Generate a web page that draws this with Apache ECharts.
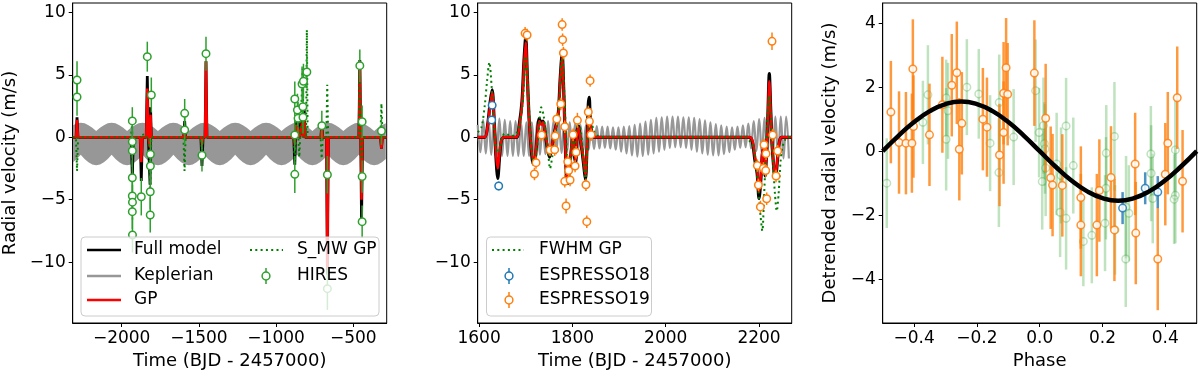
<!DOCTYPE html>
<html><head><meta charset="utf-8">
<script src="https://cdn.jsdelivr.net/npm/echarts@6/dist/echarts.min.js"></script>
<style>html,body{margin:0;padding:0;background:#fff}#c{width:1200px;height:377px}</style>
</head><body><div id="c"></div><script>
// ---------------- DATA ----------------
// Panel 1: HIRES [time, rv, err]
const hires = [[-2289,4.59,1.5],[-2289,3.23,1.5],[-1931,1.31,1.1],[-1931,-0.35,1.3],[-1931,-1.07,1.3],[-1931,-3.24,1.4],[-1931,-4.7,1.4],[-1930,-5.2,1.4],[-1931,-5.96,1.4],[-1930,-7.83,1.4],[-1873,-4.76,1.5],[-1834,6.46,1.2],[-1808,3.39,1.4],[-1814,-1.36,1.3],[-1814,-2.3,1.3],[-1815,-4.36,1.4],[-1815,-6.23,1.4],[-1592,1.92,1.15],[-1592,0.58,1.2],[-1480,-1.44,1.3],[-1454,6.7,1.36],[-879,3.07,1.4],[-879,0.18,1.3],[-879,-2.97,1.5],[-862,2.19,1.3],[-858,1.52,1.3],[-832,4.27,1.4],[-823,4.49,1.4],[-827,2.45,1.3],[-826,1.6,1.3],[-801,5.23,1.3],[-704,0.93,1.2],[-668,-3.0,1.5],[-668,-12.13,1.7],[-458,5.74,1.3],[-443,1.25,1.3],[-443,-3.15,1.3],[-443,-6.76,1.3],[-318,0.5,1.1]];
// Panel 1 Keplerian band envelope (sampled grid)
const kep1T0 = -2315, kep1Step = 25;
const kep1Up = [0.97,1.12,1.17,1.12,0.97,0.76,0.5,0.76, 0.97,1.12,1.17,1.12,0.97,0.76,0.5,0.76, 0.97,1.12,1.17,1.12,0.97,0.76,0.5,0.76, 0.97,1.12,1.17,1.12,0.97,0.76,0.5,0.76, 0.97,1.12,1.17,1.12,0.97,0.76,0.5,0.76, 0.97,1.12,1.17,1.12,0.97,0.76,0.5,0.76, 0.97,1.12,1.17,1.12,0.97,0.76,0.5,0.76, 0.97,1.12,1.17,1.12,0.97,0.76,0.5,0.76, 0.97,1.12,1.17,1.12,0.97,0.76,0.5,0.76, 0.97,1.12,1.17,1.12,0.97,0.76,0.5,0.76, 0.97,1.12];
const kep1Lo = [-2.0,-1.73,-1.4,-1.73,-2.0,-2.19,-2.25,-2.19, -2.0,-1.73,-1.4,-1.73,-2.0,-2.19,-2.25,-2.19, -2.0,-1.73,-1.4,-1.73,-2.0,-2.19,-2.25,-2.19, -2.0,-1.73,-1.4,-1.73,-2.0,-2.19,-2.25,-2.19, -2.0,-1.73,-1.4,-1.73,-2.0,-2.19,-2.25,-2.19, -2.0,-1.73,-1.4,-1.73,-2.0,-2.19,-2.25,-2.19, -2.0,-1.73,-1.4,-1.73,-2.0,-2.19,-2.25,-2.19, -2.0,-1.73,-1.4,-1.73,-2.0,-2.19,-2.25,-2.19, -2.0,-1.73,-1.4,-1.73,-2.0,-2.19,-2.25,-2.19, -2.0,-1.73,-1.4,-1.73,-2.0,-2.19,-2.25,-2.19, -2.0,-1.73];
// Panel 1 model curves [time, rv]
const full1 = [[-2317,0],[-2295,0],[-2289,1.6],[-2283,0],[-1938,0],[-1931,-3.2],[-1924,0],[-1880,0],[-1873,-3.5],[-1866,0],[-1841,0],[-1834,4.9],[-1827,0],[-1821,0],[-1816,-3.8],[-1813,2.4],[-1808,0],[-1598,0],[-1592,1.3],[-1586,0],[-1487,0],[-1480,-2.3],[-1473,0],[-1460,0],[-1454,6.1],[-1448,0],[-886,0],[-879,-2.2],[-872,1.2],[-866,0],[-858,1.5],[-850,0],[-840,0.6],[-832,1.6],[-825,0],[-818,2.2],[-812,0],[-710,0],[-704,1.1],[-698,0],[-674,0],[-668,-11],[-662,0],[-464,0],[-458,6.2],[-452,0],[-447,-6.8],[-440,0],[-324,0],[-318,-0.9],[-312,0],[-284,0]];
const gp1 = [[-2317,0],[-2295,0],[-2289,1.4],[-2283,0],[-1880,0],[-1873,-2.0],[-1866,0],[-1841,0],[-1834,3.9],[-1827,0],[-1821,0],[-1817,-0.8],[-1813,1.8],[-1808,0],[-1598,0],[-1592,0.5],[-1586,0],[-1487,0],[-1480,-0.6],[-1473,0],[-1460,0],[-1454,6.1],[-1448,0],[-886,0],[-879,-0.6],[-872,1.0],[-866,0],[-858,0.8],[-850,0],[-840,0.5],[-832,1.2],[-825,0],[-818,1.9],[-812,0],[-710,0],[-704,1.0],[-698,0],[-674,0],[-668,-10.5],[-662,0],[-464,0],[-458,6.1],[-452,0],[-447,-5.0],[-440,0],[-324,0],[-318,-0.9],[-312,0],[-284,0]];
const smw1 = [[-2317,0],[-2296,0],[-2289,-2.7],[-2282,0],[-1940,0],[-1933,1.0],[-1929,-1.2],[-1922,0],[-1868,0],[-1862,0.3],[-1856,0],[-1822,0],[-1815,-4.5],[-1808,0],[-1600,0],[-1593,-2.7],[-1586,0],[-1488,0],[-1481,-1.0],[-1474,0],[-886,0],[-879,-2.1],[-872,0],[-856,0],[-850,-1.6],[-844,0],[-836,0],[-828,5.5],[-822,0],[-806,0],[-801,8.6],[-796,0],[-712,0],[-705,-1.7],[-698,0],[-675,0],[-669,4.2],[-663,0],[-465,0],[-459,5.2],[-452,0],[-446,-2.0],[-440,0],[-325,0],[-318,2.7],[-311,0],[-284,0]];

// Panel 2: ESPRESSO [time, rv, err]
const esp18 = [[1627,1.39,0.3],[1628,2.56,0.3],[1642,-3.9,0.35]];
const esp19 = [[1698.6,8.33,0.5],[1702.9,8.2,0.5],[1718.6,-2.94,0.5],[1722,-2.03,0.5],[1734,0.18,0.5],[1752,-1.02,0.5],[1762,-0.99,0.5],[1763,0.1,0.5],[1766.5,1.47,0.5],[1775,2.67,0.5],[1778,9.03,0.5],[1779,7.82,0.5],[1780.7,6.75,0.5],[1783.6,0.85,0.5],[1783.6,-3.53,0.5],[1786.4,-5.5,0.6],[1790,-1.95,0.5],[1792,-2.67,0.5],[1795,-3.42,0.5],[1801.4,0.21,0.5],[1805.7,-2.3,0.5],[1807.9,-1.2,0.5],[1810.7,1.36,0.6],[1829,-3.8,0.5],[1830.8,-6.76,0.5],[1834,2.03,0.5],[1836.4,1.28,0.5],[1837.9,4.54,0.5],[1840,0.21,0.5],[2196.4,-2.27,0.5],[2198.6,-3.82,0.5],[2202.9,-5.58,0.5],[2209.3,-2.49,0.5],[2210.7,-0.59,0.5],[2214.3,-2.67,0.5],[2215,-1.31,0.5],[2216.4,-4.92,0.5],[2227.8,7.69,0.7],[2229.3,0.18,0.5],[2236.4,-3.1,0.5],[2240,-1.1,0.5]];
// Panel 2 Keplerian (sampled extremes)
const kep2T0 = 1597, kep2Per = 11.6;
const kep2Peak = [1.0,1.4,1.5,1.5,1.5,1.4,1.3,1.3,1.2,1.2,1.2,1.25,1.3,1.3,1.3,1.3,1.25,1.2,1.1,1.0,1.0,0.95,0.9,0.85,0.85,0.8,0.8,0.85,0.9,1.0,1.1,1.25,1.4,1.55,1.6,1.65,1.65,1.65,1.6,1.6,1.55,1.45,1.35,1.2,1.05,0.95,0.85,0.8,0.85,0.95,1.1,1.3,1.45,1.55,1.6,1.65,1.65,1.65];
const kep2Trough = [-1.2,-1.3,-1.4,-1.45,-1.5,-1.5,-1.5,-1.5,-1.5,-1.5,-1.45,-1.4,-1.35,-1.3,-1.3,-1.25,-1.2,-1.2,-1.15,-1.1,-1.0,-0.95,-0.9,-0.85,-0.9,-1.0,-1.15,-1.3,-1.45,-1.55,-1.5,-1.4,-1.3,-1.15,-1.0,-0.85,-0.8,-0.8,-0.85,-1.0,-1.15,-1.3,-1.4,-1.45,-1.45,-1.35,-1.2,-1.0,-0.85,-0.8,-0.9,-1.1,-1.3,-1.5,-1.6,-1.7,-1.7,-1.7];
const gp2 = [[1597,0],[1612,0],[1618,0.8],[1624,2.6],[1628,3.6],[1632,1.5],[1636,-1.2],[1640,-2.5],[1644,-1.2],[1648,-0.2],[1654,0],[1680,0],[1686,0.8],[1692,2.6],[1696,5.5],[1700,7.6],[1703,5],[1707,1.5],[1711,-0.5],[1716,-1.8],[1720,-1.6],[1725,0.2],[1729,1.3],[1733,1.0],[1737,1.2],[1741,0.5],[1746,-0.6],[1751,-1.4],[1756,-0.7],[1761,0.3],[1766,1.0],[1770,1.8],[1774,4.5],[1778,6.4],[1781,4],[1784,0.5],[1787,-2.8],[1790,-3.3],[1794,-2.2],[1798,-0.8],[1801,0.2],[1804,-1.2],[1807,-1.8],[1810,0.4],[1813,0.8],[1817,-0.2],[1821,-1.0],[1825,-2.2],[1828,-3.0],[1831,-1.0],[1834,1.4],[1837,1.6],[1840,0.6],[1845,0],[1852,0],[2180,0],[2186,-0.3],[2191,-1.5],[2196,-2.6],[2200,-4.4],[2204,-3.0],[2207,-1.2],[2210,-0.8],[2213,-2.8],[2216,-1.2],[2219,1.5],[2222,4.5],[2225,2.0],[2228,-0.5],[2231,-2.0],[2234,-2.9],[2237,-2.6],[2240,-1.5],[2244,-0.3],[2248,0],[2270,0]];
const full2 = [[1597,0],[1612,0],[1618,0.9],[1624,2.9],[1628,3.8],[1632,1.6],[1636,-1.5],[1640,-3.3],[1644,-1.5],[1648,-0.2],[1654,0],[1680,0],[1686,1.0],[1692,2.9],[1696,6.0],[1700,8.0],[1703,5.3],[1707,1.6],[1711,-0.6],[1716,-2.1],[1720,-1.8],[1725,0.3],[1729,1.5],[1733,1.1],[1737,1.3],[1741,0.5],[1746,-0.8],[1751,-1.6],[1756,-0.8],[1761,0.3],[1766,1.1],[1770,2.0],[1774,4.8],[1778,6.7],[1781,4.2],[1784,0.5],[1787,-3.1],[1790,-3.7],[1794,-2.4],[1798,-0.9],[1801,0.2],[1804,-1.4],[1807,-2.0],[1810,0.5],[1813,0.9],[1817,-0.2],[1821,-1.2],[1825,-2.5],[1828,-3.4],[1831,-1.0],[1834,2.6],[1836,3.2],[1838,1.6],[1840,0.6],[1845,0],[1852,0],[2180,0],[2186,-0.4],[2191,-1.8],[2196,-2.9],[2200,-4.9],[2204,-3.3],[2207,-1.4],[2210,-0.9],[2213,-3.1],[2216,-1.3],[2219,1.8],[2222,5.1],[2225,2.2],[2228,-0.6],[2231,-2.2],[2234,-3.2],[2237,-2.8],[2240,-1.6],[2244,-0.3],[2248,0],[2270,0]];
const fwhm2 = [[1597,0.4],[1605,0.8],[1612,2.5],[1617,4.5],[1622,6.0],[1627,4.0],[1632,1.0],[1637,-1.0],[1642,-1.2],[1648,-0.2],[1655,0.3],[1662,0.2],[1670,0.1],[1680,0.3],[1688,1.2],[1694,3.0],[1700,6.5],[1704,4.5],[1709,1.0],[1714,-1.5],[1718,-2.4],[1723,-1.2],[1728,0.5],[1733,2.4],[1738,1.8],[1743,0.4],[1748,-1.2],[1752,-2.5],[1757,-1.5],[1762,0],[1768,1.2],[1773,3.5],[1778,7.0],[1782,4.0],[1786,0.5],[1790,-2.5],[1794,-3.0],[1798,-1.0],[1801,0.4],[1805,-1.5],[1809,0.5],[1813,1.2],[1818,0.5],[1823,-1.5],[1828,-3.3],[1832,-0.8],[1836,1.6],[1840,1.4],[1846,0.5],[1855,0.1],[1870,0],[2170,0],[2180,-0.3],[2188,-0.8],[2194,-2.2],[2198,-4],[2203,-6.2],[2207,-7.5],[2211,-4.5],[2215,-1.0],[2219,2.0],[2222,3.3],[2226,1.0],[2230,-2.0],[2234,-4.5],[2238,-5.9],[2242,-4.5],[2246,-2.0],[2250,-0.8],[2256,-0.2],[2262,0],[2270,0]];

// Panel 3: phase-folded [phase, rv, err]
const phHires = [[-0.487,-1.0,1.4],[-0.372,0.9,1.3],[-0.356,1.76,1.55],[-0.298,1.66,1.2],[-0.292,1.26,1.5],[-0.298,0.37,1.6],[-0.232,2.0,1.5],[-0.194,1.79,1.4],[-0.158,0.25,1.5],[-0.13,-0.67,1.7],[-0.129,1.52,1.5],[-0.083,0.44,1.5],[-0.013,1.89,1.6],[-0.002,0.58,1.4],[0.008,-0.95,1.5],[0.012,0.8,1.5],[0.015,0.23,1.3],[0.017,0.07,1.4],[0.019,-0.53,1.5],[0.054,-0.4,1.6],[0.068,-0.76,1.5],[0.065,-1.91,1.4],[0.084,-2.1,1.6],[0.084,0.79,1.5],[0.107,-0.45,1.5],[0.139,-2.82,1.4],[0.166,-2.63,1.5],[0.208,-2.25,1.5],[0.211,-1.16,1.6],[0.212,-0.06,1.5],[0.238,0.46,1.7],[0.24,-2.46,1.4],[0.274,-3.37,1.5],[0.275,-1.75,1.6],[0.284,-1.94,1.5],[0.354,-0.09,1.5],[0.355,-0.69,1.5],[0.36,-1.48,1.4],[0.432,0.04,1.6],[0.432,-1.38,1.5],[0.428,-1.5,1.4]];
const phEsp19 = [[-0.474,1.22,1.6],[-0.448,0.27,1.6],[-0.426,0.25,1.6],[-0.407,0.25,1.55],[-0.404,2.57,1.55],[-0.402,0.77,1.6],[-0.351,0.51,1.6],[-0.31,1.45,1.5],[-0.28,2.06,1.6],[-0.264,2.45,1.6],[-0.256,0.06,1.6],[-0.248,0.87,1.6],[-0.181,1.0,1.6],[-0.168,0.75,1.55],[-0.128,-0.12,1.6],[-0.115,0.58,1.6],[-0.115,1.81,1.6],[-0.107,2.61,1.55],[-0.102,1.78,1.6],[-0.017,2.44,1.65],[0.019,1.03,1.7],[0.035,-0.83,1.6],[0.041,-1.06,1.6],[0.072,-1.07,1.6],[0.131,-1.45,1.6],[0.131,-2.31,1.6],[0.182,-2.31,1.6],[0.19,-1.23,1.6],[0.227,-0.82,1.6],[0.238,-2.46,1.6],[0.304,-0.4,1.6],[0.306,-2.56,1.6],[0.376,-3.37,1.6],[0.4,-0.72,1.6],[0.408,0.25,1.6],[0.438,1.67,1.6],[0.455,-0.94,1.6]];
const phEsp18 = [[0.264,-1.78,0.5],[0.336,-1.16,0.5],[0.376,-1.28,0.5]];
// Keplerian phase curve
const curvePhase = [-0.5,-0.45,-0.4,-0.35,-0.3,-0.25,-0.2,-0.15,-0.1,-0.05,0,0.05,0.1,0.15,0.2,0.25,0.3,0.35,0.4,0.45,0.5];
const curveRV = [0,0.48,0.91,1.25,1.47,1.55,1.47,1.25,0.91,0.48,0,-0.48,-0.91,-1.25,-1.47,-1.55,-1.47,-1.25,-0.91,-0.48,0];

// Axis ticks
const x1Ticks = [-2000,-1500,-1000,-500];
const x2Ticks = [1600,1800,2000,2200];
const x3Ticks = [-0.4,-0.2,0,0.2,0.4];
const yRVTicks = [-10,-5,0,5,10];
const y3Ticks = [-4,-2,0,2,4];

// ---------------- CHART ----------------
const FONT = 'DejaVu Sans';
const C_GREEN = '#2ca02c', C_ORANGE = '#ff7f0e', C_BLUE = '#1f77b4', C_GREY = '#979797';
const minus = s => s.replace('-', '\u2212');
const fmtInt = v => minus(String(Math.round(v)));
const fmt1 = v => minus(Number(v).toFixed(1));

function xAx(gi, min, max, ticks, fmt, name) {
  return {type:'value', gridIndex:gi, min, max, name, nameLocation:'middle', nameGap:29,
    nameTextStyle:{fontSize:18, color:'#000', fontFamily:FONT},
    axisLine:{show:true, onZero:false, lineStyle:{color:'#000', width:1}},
    axisTick:{show:true, length:4, lineStyle:{color:'#000', width:1}, customValues:ticks},
    axisLabel:{fontSize:17, color:'#000', fontFamily:FONT, margin:7, customValues:ticks, formatter:fmt},
    splitLine:{show:false}};
}
function yAx(gi, min, max, ticks, fmt, name, gap) {
  return {type:'value', gridIndex:gi, min, max, name, nameLocation:'middle', nameGap:gap,
    nameTextStyle:{fontSize:18, color:'#000', fontFamily:FONT},
    axisLine:{show:true, onZero:false, lineStyle:{color:'#000', width:1}},
    axisTick:{show:true, length:4, lineStyle:{color:'#000', width:1}, customValues:ticks},
    axisLabel:{fontSize:17, color:'#000', fontFamily:FONT, margin:7, customValues:ticks, formatter:fmt},
    splitLine:{show:false}};
}
function errSeries(ax, data, color, width, opacity, z) {
  return {type:'custom', xAxisIndex:ax, yAxisIndex:ax, clip:true, silent:true, z,
    encode:{x:0, y:1}, data,
    renderItem:(p, api) => {
      const x = api.value(0), y = api.value(1), e = api.value(2);
      const a = api.coord([x, y - e]), b = api.coord([x, y + e]);
      return {type:'line', shape:{x1:a[0], y1:a[1], x2:b[0], y2:b[1]},
        style:{stroke:color, lineWidth:width, opacity}};
    }};
}
function ptSeries(ax, data, color, opacity, z) {
  return {type:'scatter', xAxisIndex:ax, yAxisIndex:ax, silent:true, z,
    data:data.map(d => [d[0], d[1]]), symbol:'circle', symbolSize:7.5,
    itemStyle:{color:'#fff', borderColor:color, borderWidth:1.5, opacity}};
}
function lineSeries(ax, data, color, width, type, z, smooth) {
  return {type:'line', xAxisIndex:ax, yAxisIndex:ax, data, showSymbol:false, silent:true, z,
    smooth: smooth || false, lineStyle:{color, width, type: type || 'solid', cap:'butt'}};
}

const kep2Data = [];
for (let i = 0; i < kep2Peak.length; i++) {
  kep2Data.push([kep2T0 + i * kep2Per, kep2Peak[i]]);
  kep2Data.push([kep2T0 + i * kep2Per + kep2Per / 2, kep2Trough[i]]);
}
const curveData = curvePhase.map((p, i) => [p, curveRV[i]]);

const bandSeries = {type:'custom', xAxisIndex:0, yAxisIndex:0, clip:true, silent:true, z:1,
  data:[[kep1T0, 0]],
  renderItem:(p, api) => {
    const pts = [];
    for (let i = 0; i < kep1Up.length; i++) pts.push(api.coord([kep1T0 + i * kep1Step, kep1Up[i]]));
    for (let i = kep1Lo.length - 1; i >= 0; i--) pts.push(api.coord([kep1T0 + i * kep1Step, kep1Lo[i]]));
    return {type:'polygon', shape:{points:pts}, style:{fill:C_GREY}};
  }};

// legend graphics
const TXT = (text, x, y) => ({type:'text', z:101, style:{text, x, y, fill:'#000', fontSize:17, fontFamily:FONT, verticalAlign:'middle', align:'left'}});
const LN = (x1, y, x2, color, w, dash) => ({type:'line', z:101, shape:{x1, y1:y, x2, y2:y}, style:{stroke:color, lineWidth:w, lineDash:dash || null}});
const MK = (x, y, color) => ([
  {type:'line', z:101, shape:{x1:x, y1:y - 8, x2:x, y2:y + 8}, style:{stroke:color, lineWidth:1.5}},
  {type:'circle', z:102, shape:{cx:x, cy:y, r:3.9}, style:{fill:'#fff', stroke:color, lineWidth:1.5}}
]);
const graphics = [
  {type:'rect', z:100, shape:{x:81, y:237, width:298, height:79, r:4}, style:{fill:'rgba(255,255,255,0.8)', stroke:'#cccccc', lineWidth:1}},
  LN(87, 250, 121, '#000', 2.5), TXT('Full model', 134, 250),
  LN(87, 276, 121, C_GREY, 2.5), TXT('Keplerian', 134, 276),
  LN(87, 300, 121, '#ff0000', 2.5), TXT('GP', 134, 300),
  LN(250, 250, 283, '#008000', 2, [2, 3.3]), TXT('S_MW GP', 297, 250),
  ...MK(266, 276, C_GREEN), TXT('HIRES', 297, 276),
  {type:'rect', z:100, shape:{x:486.5, y:237, width:165, height:79, r:4}, style:{fill:'rgba(255,255,255,0.8)', stroke:'#cccccc', lineWidth:1}},
  LN(492, 250, 524, '#008000', 2, [2, 3.3]), TXT('FWHM GP', 539, 250),
  ...MK(509, 276, C_BLUE), TXT('ESPRESSO18', 539, 276),
  ...MK(509, 300, C_ORANGE), TXT('ESPRESSO19', 539, 300)
];

const option = {
  animation:false,
  backgroundColor:'#fff',
  textStyle:{fontFamily:FONT},
  grid:[
    {left:72.7, top:3, width:314, height:320, show:true, borderColor:'#000', borderWidth:1},
    {left:477.7, top:3, width:314, height:320, show:true, borderColor:'#000', borderWidth:1},
    {left:882.7, top:3, width:314, height:320, show:true, borderColor:'#000', borderWidth:1}
  ],
  xAxis:[
    xAx(0, -2317, -284, x1Ticks, fmtInt, 'Time (BJD - 2457000)'),
    xAx(1, 1597, 2270, x2Ticks, fmtInt, 'Time (BJD - 2457000)'),
    xAx(2, -0.5, 0.5, x3Ticks, fmt1, 'Phase')
  ],
  yAxis:[
    yAx(0, -14.88, 10.76, yRVTicks, fmtInt, 'Radial velocity (m/s)', 53),
    yAx(1, -14.88, 10.76, yRVTicks, fmtInt, '', 40),
    yAx(2, -5.37, 4.63, y3Ticks, fmtInt, 'Detrended radial velocity (m/s)', 43)
  ],
  series:[
    bandSeries,
    lineSeries(0, full1, '#000', 2.8, 'solid', 3),
    lineSeries(0, gp1, '#ff0000', 2.5, 'solid', 4),
    lineSeries(0, smw1, '#008000', 2, [2, 3.3], 5),
    errSeries(0, hires, C_GREEN, 1.5, 1, 6),
    ptSeries(0, hires, C_GREEN, 1, 7),

    lineSeries(1, kep2Data, C_GREY, 2.2, 'solid', 2, 0.4),
    lineSeries(1, full2, '#000', 3.2, 'solid', 3, 0.3),
    lineSeries(1, gp2, '#ff0000', 2.5, 'solid', 4, 0.3),
    lineSeries(1, fwhm2, '#008000', 2, [2, 3.3], 5, 0.3),
    errSeries(1, esp18, C_BLUE, 1.5, 1, 6),
    ptSeries(1, esp18, C_BLUE, 1, 7),
    errSeries(1, esp19, C_ORANGE, 1.5, 1, 6),
    ptSeries(1, esp19, C_ORANGE, 1, 7),

    errSeries(2, phHires, C_GREEN, 2.5, 0.3, 3),
    ptSeries(2, phHires, C_GREEN, 0.3, 4),
    errSeries(2, phEsp19, C_ORANGE, 2.5, 0.8, 5),
    ptSeries(2, phEsp19, C_ORANGE, 0.85, 6),
    errSeries(2, phEsp18, C_BLUE, 2.5, 0.8, 5),
    ptSeries(2, phEsp18, C_BLUE, 0.85, 6),
    lineSeries(2, curveData, '#000', 4.5, 'solid', 8, true)
  ],
  graphic:graphics
};
const chart = echarts.init(document.getElementById('c'), null, {renderer:'canvas'});
chart.setOption(option);
</script></body></html>
